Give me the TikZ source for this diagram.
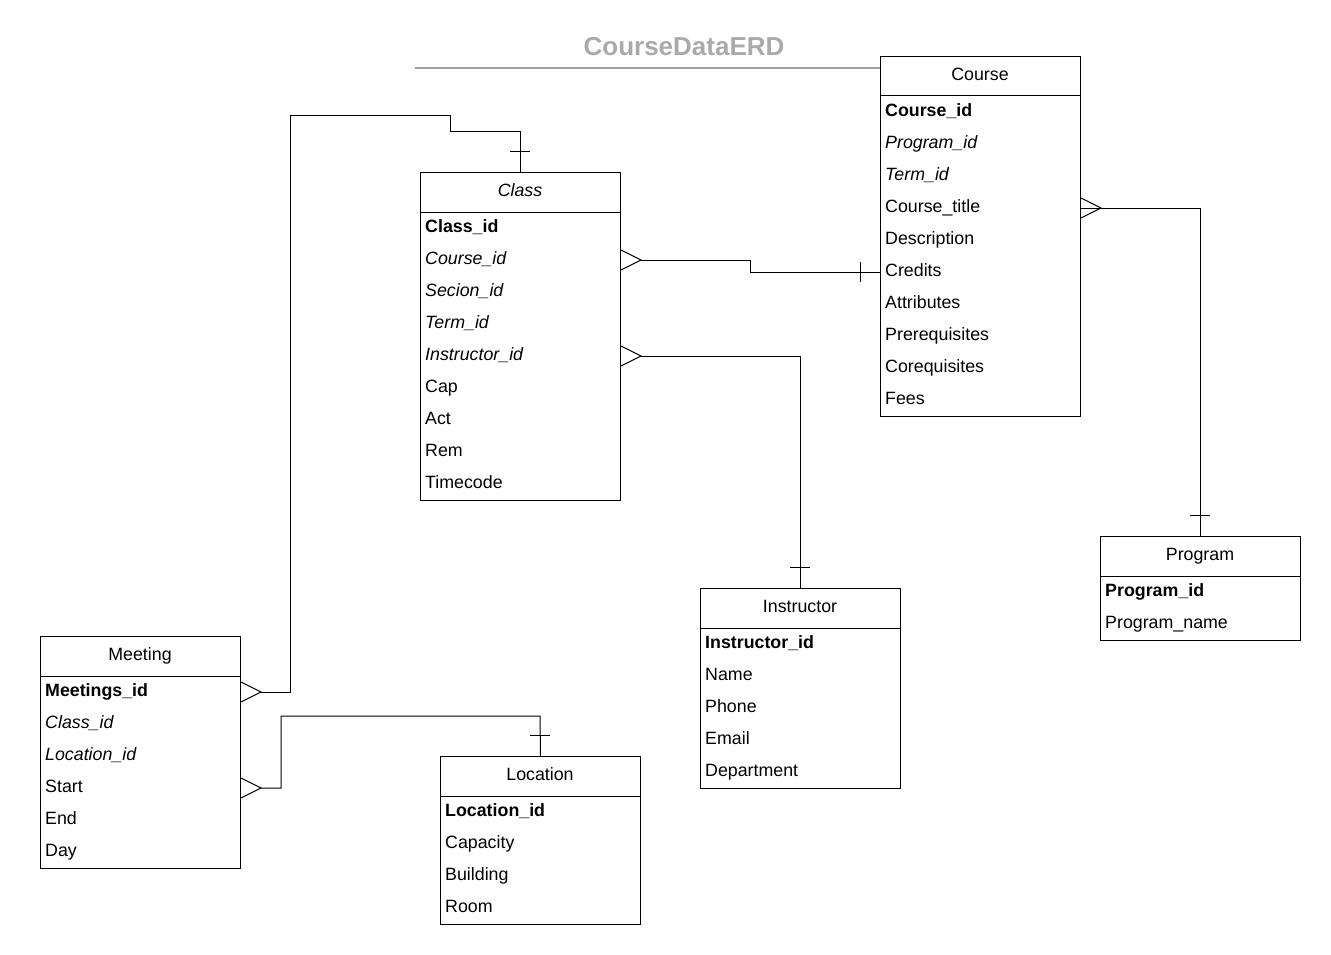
\documentclass[tikz,border=0pt]{standalone}
\usepackage{fontspec}
\setmainfont{Liberation Sans}
\definecolor{titlegray}{RGB}{170,170,170}
\definecolor{rulegray}{RGB}{160,160,160}

% entity box: name, left x, top y, number of rows, title
\newcommand\erent[5]{%
  \node[draw, line width=1pt, minimum width=200pt, minimum height={(40+32*#4)*1pt},
        anchor=north west, inner sep=0pt] (#1) at (#2,#3) {};
  \draw[line width=1pt] (#2,#3+40) -- ++(200,0);
  \node[anchor=base, inner sep=0pt] (#1-title) at (#2+100,#3+24.3) {#5};
}
% attribute row: entity name, left x, top y, row index, text
\newcommand\erow[5]{%
  \coordinate (#1-r#4) at (#2,#3+40+32*#4-16);
  \node[anchor=base west, inner sep=0pt] (#1-t#4) at (#2+5,#3+40+32*#4-11.7) {#5};
}
% many-side crow's foot opening towards the entity edge on its left
\newcommand\crow[1]{%
  \draw[line width=1pt] ($(#1)+(0,-10)$) -- ($(#1)+(20,0)$) -- ($(#1)+(0,10)$);
}

\usetikzlibrary{calc}

\begin{document}
\begin{tikzpicture}[x=1pt,y=-1pt,font=\fontsize{17.8}{20}\selectfont,
  link/.style={line width=1pt}]
\useasboundingbox (0,0) rectangle (1331,955);

% title and rule
\node[anchor=base, font=\fontsize{26}{30}\selectfont\bfseries, text=titlegray, inner sep=0pt]
  (title) at (684,55.3) {CourseDataERD};
\coordinate (rulestart) at (415,68);

% Course
\erent{course}{880}{56}{10}{Course}
\erow{course}{880}{56}{1}{\textbf{Course\_id}}
\erow{course}{880}{56}{2}{\textit{Program\_id}}
\erow{course}{880}{56}{3}{\textit{Term\_id}}
\erow{course}{880}{56}{4}{Course\_title}
\erow{course}{880}{56}{5}{Description}
\erow{course}{880}{56}{6}{Credits}
\erow{course}{880}{56}{7}{Attributes}
\erow{course}{880}{56}{8}{Prerequisites}
\erow{course}{880}{56}{9}{Corequisites}
\erow{course}{880}{56}{10}{Fees}
\draw[rulegray, line width=2pt] (rulestart) -- (rulestart -| course.west);

% Class
\erent{class}{420}{172}{9}{\textit{Class}}
\erow{class}{420}{172}{1}{\textbf{Class\_id}}
\erow{class}{420}{172}{2}{\textit{Course\_id}}
\erow{class}{420}{172}{3}{\textit{Secion\_id}}
\erow{class}{420}{172}{4}{\textit{Term\_id}}
\erow{class}{420}{172}{5}{\textit{Instructor\_id}}
\erow{class}{420}{172}{6}{Cap}
\erow{class}{420}{172}{7}{Act}
\erow{class}{420}{172}{8}{Rem}
\erow{class}{420}{172}{9}{Timecode}

% Instructor
\erent{instructor}{700}{588}{5}{Instructor}
\erow{instructor}{700}{588}{1}{\textbf{Instructor\_id}}
\erow{instructor}{700}{588}{2}{Name}
\erow{instructor}{700}{588}{3}{Phone}
\erow{instructor}{700}{588}{4}{Email}
\erow{instructor}{700}{588}{5}{Department}

% Program
\erent{program}{1100}{536}{2}{Program}
\erow{program}{1100}{536}{1}{\textbf{Program\_id}}
\erow{program}{1100}{536}{2}{Program\_name}

% Meeting
\erent{meeting}{40}{636}{6}{Meeting}
\erow{meeting}{40}{636}{1}{\textbf{Meetings\_id}}
\erow{meeting}{40}{636}{2}{\textit{Class\_id}}
\erow{meeting}{40}{636}{3}{\textit{Location\_id}}
\erow{meeting}{40}{636}{4}{Start}
\erow{meeting}{40}{636}{5}{End}
\erow{meeting}{40}{636}{6}{Day}

% Location
\erent{location}{440}{756}{4}{Location}
\erow{location}{440}{756}{1}{\textbf{Location\_id}}
\erow{location}{440}{756}{2}{Capacity}
\erow{location}{440}{756}{3}{Building}
\erow{location}{440}{756}{4}{Room}

% connector end points on entity edges
\coordinate (m1) at (meeting.east |- meeting-r1);
\coordinate (m4) at (meeting.east |- meeting-r4);
\coordinate (c2) at (class.east |- class-r2);
\coordinate (c5) at (class.east |- class-r5);
\coordinate (k4) at (course.east |- course-r4);
\coordinate (k6) at (course.west |- course-r6);

% Class 1 -- many Meeting
\draw[link] (class.north) -- ++(0,-40) -| (450,116) -| (290,692) -- ($(m1)+(20,0)$);
\draw[link] (510,152) -- (530,152);
\crow{m1}

% Course 1 -- many Class
\draw[link] ($(c2)+(20,0)$) -- (750,260) -- (750,272) -- (k6);
\draw[link] (860,262) -- (860,282);
\crow{c2}

% Instructor 1 -- many Class
\draw[link] ($(c5)+(20,0)$) -| (instructor.north);
\draw[link] (790,567) -- (810,567);
\crow{c5}

% Program 1 -- many Course
\draw[link] (k4) -| (program.north);
\draw[link] (1190,515) -- (1210,515);
\crow{k4}

% Location 1 -- many Meeting
\draw[link] ($(m4)+(20,0)$) -- ++(20,0) |- (540,716) -- (location.north);
\draw[link] (530,735) -- (550,735);
\crow{m4}
\end{tikzpicture}
\end{document}
